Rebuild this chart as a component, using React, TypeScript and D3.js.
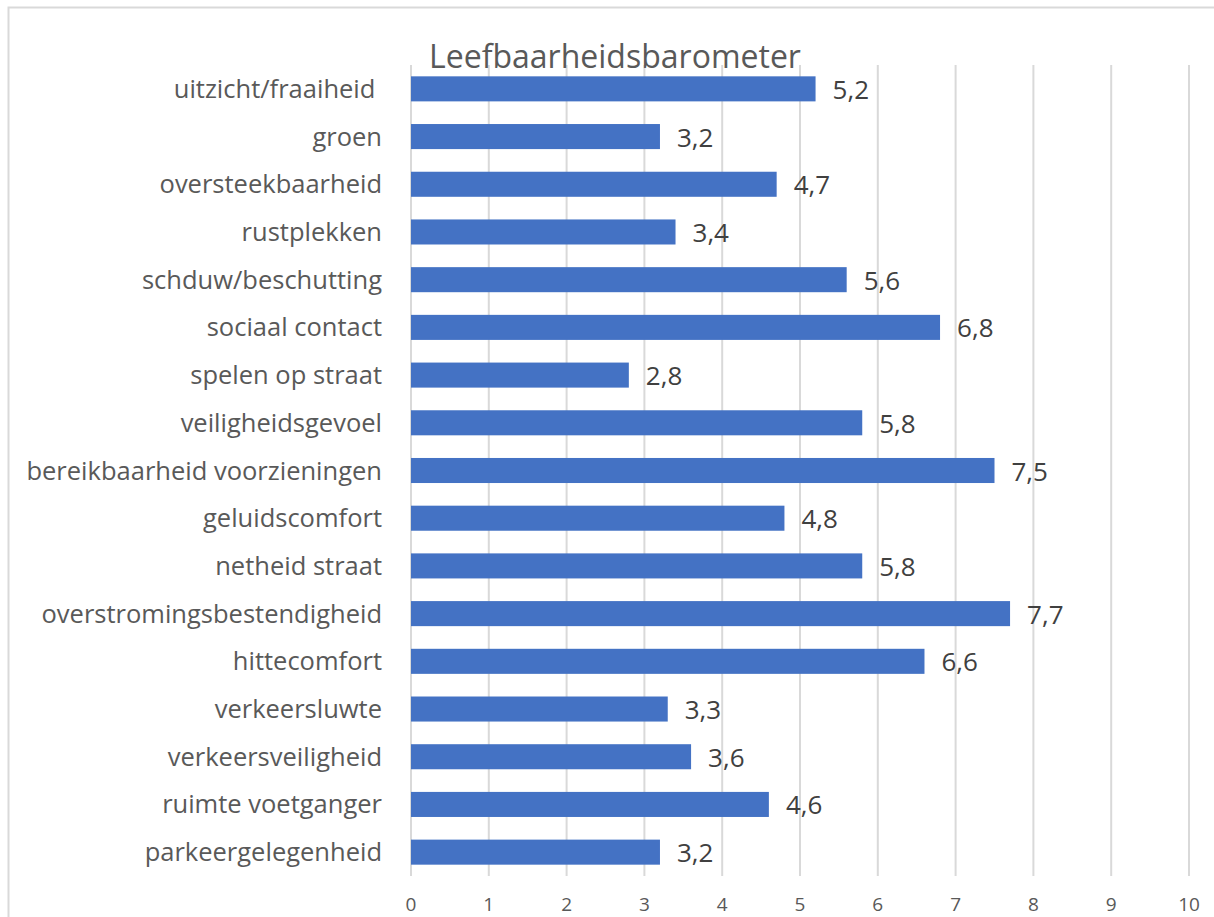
import React, { useEffect, useRef } from "react";
import * as d3 from "d3";

// categories, top to bottom as in the chart
const categories = [
  "uitzicht/fraaiheid ",
  "groen",
  "oversteekbaarheid",
  "rustplekken",
  "schduw/beschutting",
  "sociaal contact",
  "spelen op straat",
  "veiligheidsgevoel",
  "bereikbaarheid voorzieningen",
  "geluidscomfort",
  "netheid straat",
  "overstromingsbestendigheid",
  "hittecomfort",
  "verkeersluwte",
  "verkeersveiligheid",
  "ruimte voetganger",
  "parkeergelegenheid",
];

const values = [5.2, 3.2, 4.7, 3.4, 5.6, 6.8, 2.8, 5.8, 7.5, 4.8, 5.8, 7.7, 6.6, 3.3, 3.6, 4.6, 3.2];

const xTicks = [0, 1, 2, 3, 4, 5, 6, 7, 8, 9, 10];

const title = "Leefbaarheidsbarometer";

const App = () => {
  const svgRef = useRef<SVGSVGElement>(null);

  useEffect(() => {
    const width = 1214;
    const height = 917;
    const font = "'Open Sans', sans-serif";
    const textColor = "#595959";

    const svg = d3.select(svgRef.current);
    svg.selectAll("*").remove();

    // outer chart border (only top and left visible in the crop)
    svg
      .append("path")
      .attr("d", `M8.5,${height} V7.5 H${width}`)
      .attr("fill", "none")
      .attr("stroke", "#d9d9d9")
      .attr("stroke-width", 2);

    const x = d3.scaleLinear().domain([0, 10]).range([411, 1189]);
    const y = d3
      .scaleBand<string>()
      .domain(categories)
      .range([65, 876])
      .paddingInner(0.475)
      .paddingOuter(0.2375);

    // gridlines
    svg
      .append("g")
      .selectAll("line")
      .data(xTicks)
      .join("line")
      .attr("x1", (d) => x(d))
      .attr("x2", (d) => x(d))
      .attr("y1", 65)
      .attr("y2", 876)
      .attr("stroke", "#d9d9d9")
      .attr("stroke-width", 2);

    // title
    svg
      .append("text")
      .attr("x", 615)
      .attr("y", 68)
      .attr("text-anchor", "middle")
      .attr("font-family", font)
      .attr("font-size", 32)
      .attr("fill", textColor)
      .text(title);

    const rows = categories.map((c, i) => ({ name: c, value: values[i] }));

    // bars
    svg
      .append("g")
      .selectAll("rect")
      .data(rows)
      .join("rect")
      .attr("x", x(0))
      .attr("y", (d) => y(d.name)!)
      .attr("width", (d) => x(d.value) - x(0))
      .attr("height", y.bandwidth())
      .attr("fill", "#4472c4");

    // value labels
    const fmt = (v: number) => d3.format(".1f")(v).replace(".", ",");
    svg
      .append("g")
      .selectAll("text")
      .data(rows)
      .join("text")
      .attr("x", (d) => x(d.value) + 17)
      .attr("y", (d) => y(d.name)! + y.bandwidth() / 2 + 10)
      .attr("font-family", font)
      .attr("font-size", 26)
      .attr("fill", "#404040")
      .text((d) => fmt(d.value));

    // category labels
    svg
      .append("g")
      .selectAll("text")
      .data(rows)
      .join("text")
      .attr("x", 382)
      .attr("y", (d) => y(d.name)! + y.bandwidth() / 2 + 9)
      .attr("text-anchor", "end")
      .attr("font-family", font)
      .attr("font-size", 25.5)
      .attr("fill", textColor)
      .style("white-space", "pre")
      .text((d) => d.name);

    // x tick labels
    svg
      .append("g")
      .selectAll("text")
      .data(xTicks)
      .join("text")
      .attr("x", (d) => x(d))
      .attr("y", 911)
      .attr("text-anchor", "middle")
      .attr("font-family", font)
      .attr("font-size", 19)
      .attr("fill", textColor)
      .text((d) => d);
  }, []);

  return (
    <svg
      ref={svgRef}
      width={1214}
      height={917}
      style={{ position: "absolute", left: 0, top: 0, background: "#fff" }}
    ></svg>
  );
};

export default App;
